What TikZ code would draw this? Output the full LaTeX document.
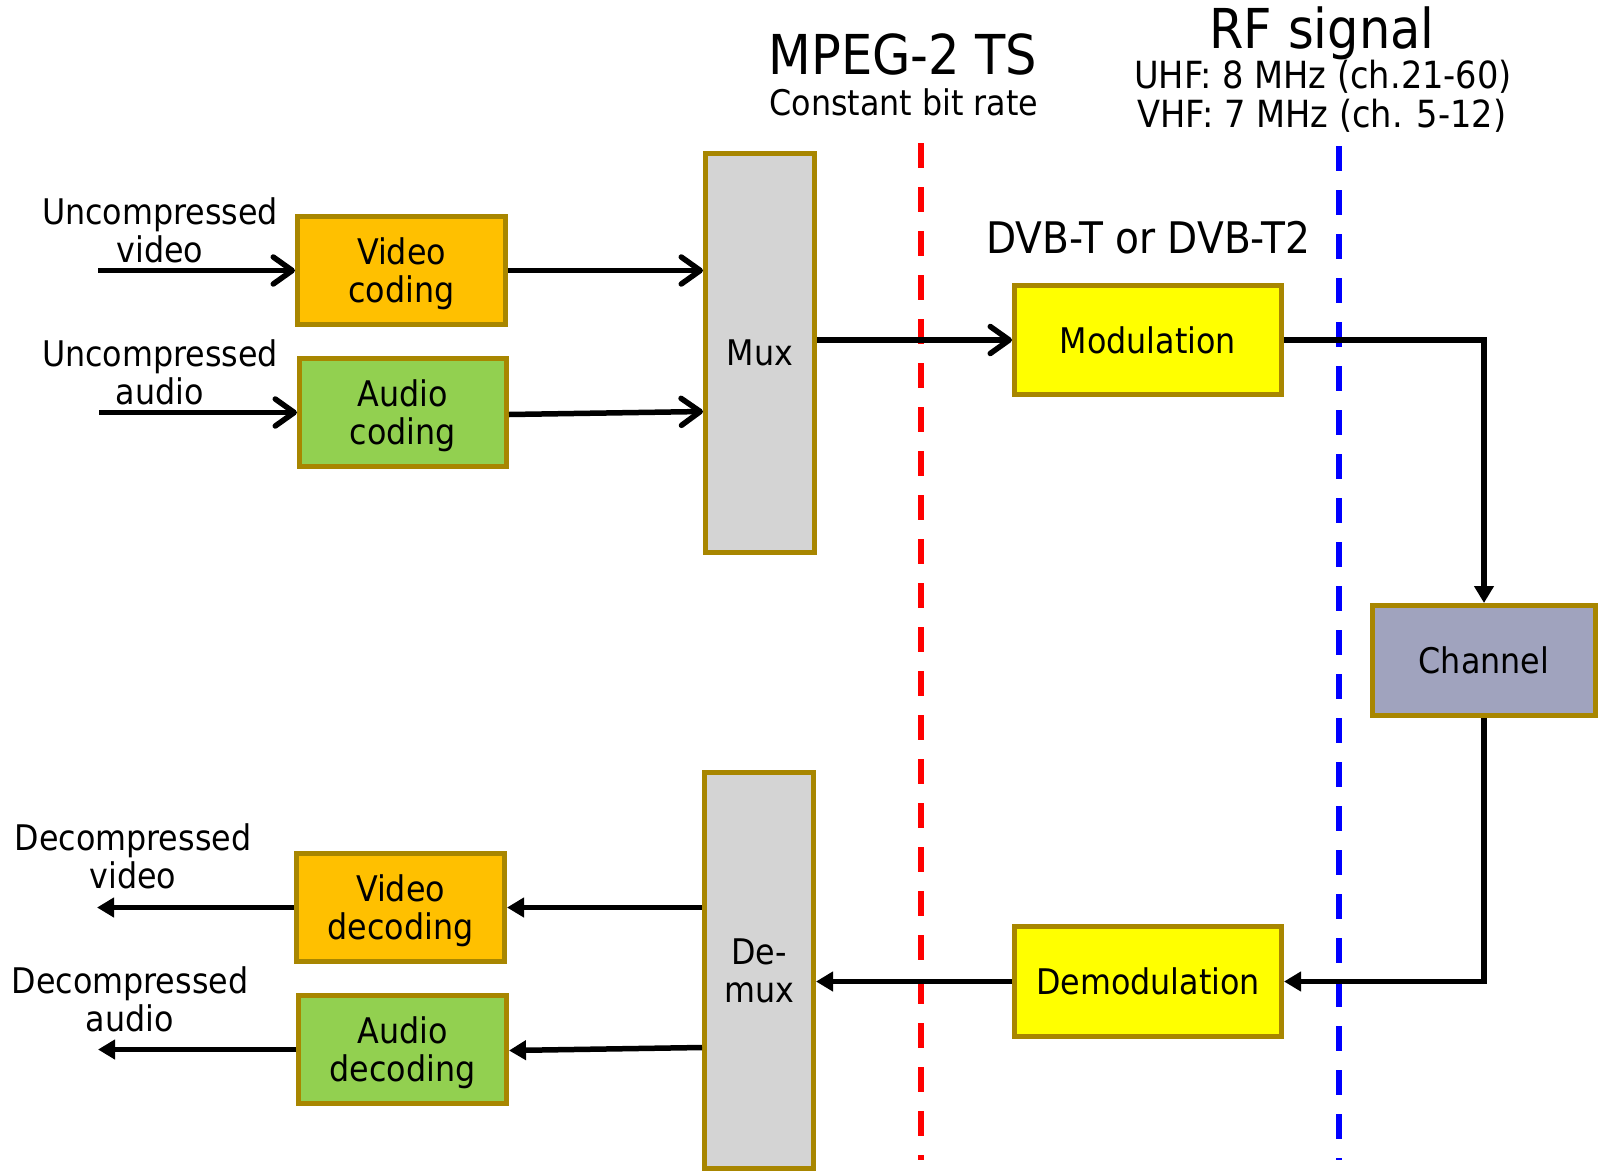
\documentclass[tikz,border=0pt]{standalone}
\usepackage{fontspec}
\setmainfont{DejaVu Sans Condensed}
\usetikzlibrary{arrows.meta}
\definecolor{bordr}{HTML}{A88600}
\definecolor{vcol}{HTML}{FFC000}
\definecolor{acol}{HTML}{92D050}
\definecolor{mcol}{HTML}{D4D4D4}
\definecolor{ycol}{HTML}{FFFF00}
\definecolor{ccol}{HTML}{A0A3BE}
\tikzset{
  blk/.style={draw=bordr, line width=5pt, inner sep=0pt, align=center, text depth=0pt,
    font=\fontsize{35.3}{38}\selectfont},
  lbl/.style={inner sep=0pt, align=center, font=\fontsize{35.3}{38}\selectfont},
  mid/.style={inner sep=0pt, align=center, font=\fontsize{37.4}{39}\selectfont},
  dvbfont/.style={inner sep=0pt, align=center, font=\fontsize{43.5}{48}\selectfont},
  big/.style={inner sep=0pt, align=center, font=\fontsize{55}{60}\selectfont},
  openarr/.style={line width=5.5pt, -{Straight Barb[length=19pt,width=27pt,round]}},
  fillarr/.style={line width=5.5pt, -{Triangle[length=17pt,width=19pt]}},
  divider/.style={line width=6pt, dash pattern=on 25pt off 19pt}
}
\begin{document}
\begin{tikzpicture}[x=1pt,y=-1pt]
\useasboundingbox (0,0) rectangle (1603,1172);
% dividers
\coordinate (rtop) at (921,143);
\coordinate (rbot) at (921,1160);
\coordinate (btop) at (1339,146);
\coordinate (bbot) at (1339,1160);
\draw[divider, red] (rtop) -- (rbot);
\draw[divider, blue] (btop) -- (bbot);
% boxes
\node[blk, fill=vcol, minimum width=208pt, minimum height=108pt] (vc) at (401.5,270.5) {Video\\coding};
\node[blk, fill=acol, minimum width=207pt, minimum height=108pt] (ac) at (403,412.5) {Audio\\coding};
\node[blk, fill=mcol, minimum width=109pt, minimum height=399pt] (mux) at (760,353) {Mux};
\node[blk, fill=ycol, minimum width=267pt, minimum height=109pt] (mod) at (1148,340) {Modulation};
\node[blk, fill=ccol, minimum width=223pt, minimum height=110pt] (chan) at (1484,660.5) {Channel};
\node[blk, fill=ycol, minimum width=267pt, minimum height=110pt] (demod) at (1148,981.5) {Demodulation};
\node[blk, fill=mcol, minimum width=109pt, minimum height=396pt] (demux) at (759,970.5) {De-\\mux};
\node[blk, fill=vcol, minimum width=208pt, minimum height=108pt] (vd) at (400.5,907.5) {Video\\decoding};
\node[blk, fill=acol, minimum width=208pt, minimum height=108pt] (ad) at (402.5,1049.5) {Audio\\decoding};
% labels
\node[lbl] (uv) at (160,230) {Uncompressed\\video};
\node[lbl] (ua) at (160,372.5) {Uncompressed\\audio};
\node[lbl] (dv) at (133,856) {Decompressed\\video};
\node[lbl] (da) at (130,999) {Decompressed\\audio};
\node[big] (mpeg) at (903,54) {MPEG-2 TS};
\node[lbl] (cbr) at (904,102) {Constant bit rate};
\node[big] (rf) at (1322,33) {RF signal};
\node[mid] (uhf) at (1323,77) {UHF: 8 MHz (ch.21-60)};
\node[mid] (vhf) at (1322,116) {VHF: 7 MHz (ch. 5-12)};
\node[dvbfont] (dvb) at (1148,238) {DVB-T or DVB-T2};
% free ends
\coordinate (inV) at (98,270.5);
\coordinate (inA) at (99,412.5);
\coordinate (outV) at (97,907.5);
\coordinate (outA) at (98,1049.5);
% connectors
\draw[openarr] (inV) -- (vc.west);
\draw[openarr] (inA) -- (ac.west);
\draw[openarr] (vc.east) -- (vc.east -| mux.west);
\draw[openarr] ([yshift=-2pt]ac.east) -- ([yshift=1pt]ac.east -| mux.west);
\draw[openarr] (mod.west -| mux.east) -- (mod.west);
\draw[fillarr] (mod.east) -| (chan.north);
\draw[fillarr] (chan.south) |- (demod.east);
\draw[fillarr] (demod.west) -- (demod.west -| demux.east);
\draw[fillarr] (vd.east -| demux.west) -- (vd.east);
\draw[fillarr] ([yshift=2pt]ad.east -| demux.west) -- ([yshift=-1pt]ad.east);
\draw[fillarr] (vd.west) -- (outV);
\draw[fillarr] (ad.west) -- (outA);
\end{tikzpicture}
\end{document}
